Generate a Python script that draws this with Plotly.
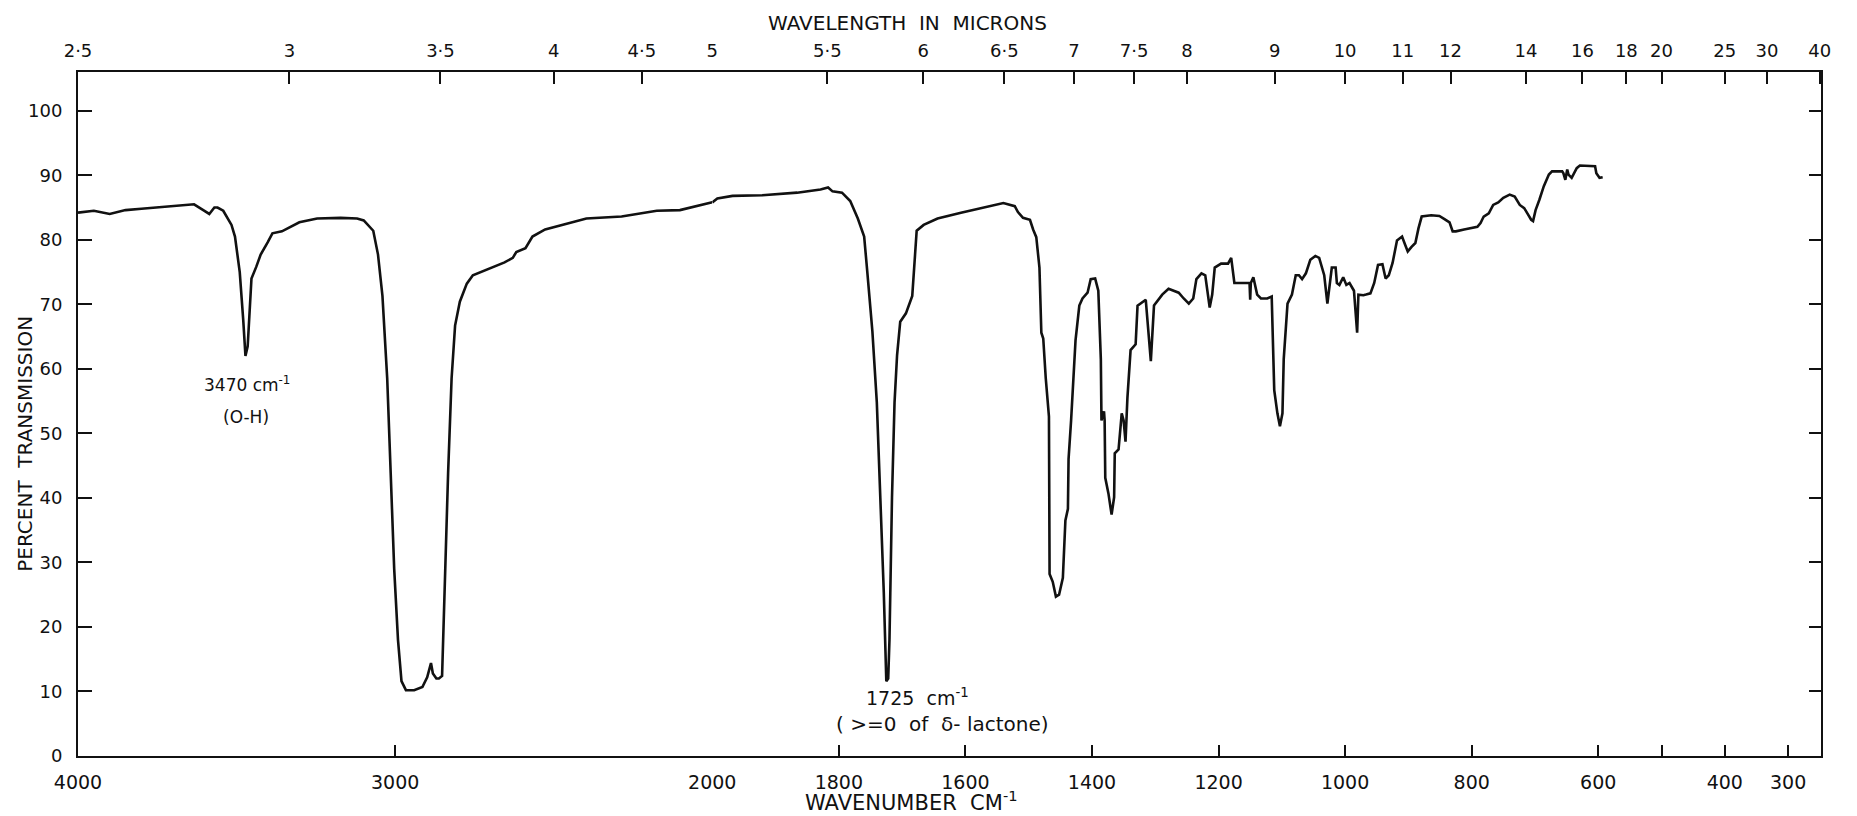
import plotly.graph_objects as go

# ---------------- data ----------------
wavenumber_cm1 = [
    4000, 3950, 3900, 3874, 3850, 3800, 3750, 3700, 3660, 3634, 3605, 3586, 3570, 3560,
    3542, 3516, 3505, 3490, 3479, 3472, 3465, 3460, 3453, 3438, 3424, 3402, 3387, 3357,
    3302, 3246, 3172, 3120, 3099, 3069, 3054, 3040, 3025, 3014, 3003, 2991, 2980, 2966,
    2940, 2914, 2899, 2887, 2881, 2870, 2862, 2852, 2848, 2840, 2833, 2822, 2811, 2796,
    2774, 2755, 2729, 2692, 2655, 2629, 2618, 2589, 2567, 2527, 2471, 2397, 2286, 2175,
    2102, 2028, 2000,
    1992, 1968, 1921, 1866, 1829, 1817, 1810, 1795, 1782, 1770, 1760, 1755, 1747, 1740,
    1734, 1729, 1725, 1722, 1720, 1716, 1712, 1708, 1703, 1694, 1684, 1677, 1666, 1644,
    1607, 1570, 1561, 1540, 1522, 1517, 1509, 1498, 1493, 1488, 1483, 1480, 1477, 1473,
    1468, 1467, 1462, 1457, 1452, 1446, 1442, 1438, 1437, 1433, 1426, 1420, 1415, 1407,
    1402, 1395, 1390, 1386, 1385, 1381, 1380, 1379, 1374, 1369, 1365, 1364, 1358, 1353,
    1350, 1347, 1344, 1339, 1331, 1328, 1315, 1311, 1307, 1302, 1289, 1279, 1263, 1255,
    1247, 1240, 1235, 1227, 1221, 1214, 1210, 1206, 1196, 1185, 1180, 1175, 1164, 1151,
    1150, 1149, 1145, 1139, 1133, 1123, 1116, 1112, 1107, 1103, 1099, 1097, 1091, 1084,
    1078, 1073, 1068, 1062, 1055, 1047, 1041, 1036, 1033, 1028, 1024, 1021, 1015, 1013,
    1009, 1003, 998, 993, 986, 984, 981, 979, 971, 967, 960, 954, 948, 941, 936, 931,
    925, 918, 910, 905, 901, 895, 889, 884, 879, 864, 851, 843, 835, 830, 825, 812, 791,
    786, 781, 773, 766, 758, 750, 740, 732, 724, 717, 712, 706, 703, 699, 693, 686, 678,
    673, 657, 655, 652, 649, 647, 642, 634, 629, 605, 603, 598, 593,
]
transmission_pct = [
    84.2, 84.5, 84.0, 84.3, 84.6, 84.8, 85.0, 85.2, 85.4, 85.5, 84.6, 84.0, 85.0, 85.0,
    84.5, 82.3, 80.5, 75.0, 67.6, 62.0, 63.5, 67.6, 74.0, 75.8, 77.7, 79.6, 81.0, 81.3,
    82.7, 83.3, 83.4, 83.3, 83.0, 81.4, 77.7, 71.3, 58.5, 43.8, 29.0, 18.0, 11.6, 10.2,
    10.2, 10.7, 12.2, 14.4, 12.8, 12.0, 12.0, 12.4, 19.9, 30.9, 43.8, 58.5, 66.7, 70.4,
    73.2, 74.5, 75.0, 75.7, 76.5, 77.2, 78.1, 78.7, 80.5, 81.6, 82.3, 83.3, 83.6, 84.5,
    84.6, 85.5, 85.8,
    86.4, 86.8, 86.9, 87.3, 87.8, 88.1, 87.5, 87.3, 86.0, 83.3, 80.5, 75.0, 65.8, 54.8,
    40.1, 25.4, 11.6, 12.0, 18.0, 40.1, 54.8, 62.1, 67.3, 68.6, 71.3, 81.4, 82.3, 83.3,
    84.2, 85.0, 85.2, 85.7, 85.2, 84.3, 83.4, 83.1, 81.6, 80.4, 75.7, 65.6, 64.7, 58.5,
    52.6, 28.2, 27.0, 24.7, 25.0, 27.6, 36.5, 38.3, 46.0, 52.0, 64.4, 69.8, 70.9, 71.8,
    73.9, 74.0, 72.1, 61.5, 52.0, 53.4, 52.0, 43.1, 40.7, 37.4, 40.1, 46.9, 47.5, 53.1,
    52.0, 48.7, 55.5, 62.9, 63.8, 69.8, 70.7, 66.2, 61.2, 69.8, 71.5, 72.4, 71.8, 70.9,
    70.1, 70.9, 73.9, 74.8, 74.5, 69.5, 71.5, 75.7, 76.3, 76.3, 77.2, 73.3, 73.3, 73.3,
    70.7, 73.3, 74.2, 71.5, 70.9, 70.9, 71.2, 56.7, 53.1, 51.1, 53.1, 61.5, 70.1, 71.5,
    74.5, 74.5, 73.9, 74.8, 76.9, 77.5, 77.2, 75.7, 74.5, 70.1, 73.3, 75.7, 75.7, 73.3,
    73.0, 74.2, 73.0, 73.3, 72.1, 69.2, 65.6, 71.5, 71.4, 71.5, 71.7, 73.3, 76.1, 76.2,
    74.0, 74.5, 76.4, 79.9, 80.5, 79.2, 78.2, 78.9, 79.5, 81.8, 83.6, 83.8, 83.7, 83.2,
    82.7, 81.3, 81.3, 81.6, 82.0, 82.6, 83.6, 84.1, 85.4, 85.8, 86.5, 87.0, 86.7, 85.4,
    84.9, 84.1, 83.1, 82.9, 84.6, 86.2, 88.3, 90.1, 90.6, 90.6, 90.3, 89.3, 90.9, 90.1,
    89.6, 91.1, 91.5, 91.4, 90.3, 89.6, 89.7,
]

wavenumber_ticks_high = [4000, 3000, 2000]
wavenumber_ticks_low = [1800, 1600, 1400, 1200, 1000, 800, 600, 400, 300]
wavenumber_unlabelled_ticks = [500]
micron_ticks_high = [2.5, 3, 3.5, 4, 4.5, 5]
micron_labels_high = ["2·5", "3", "3·5", "4", "4·5", "5"]
micron_ticks_low = [5.5, 6, 6.5, 7, 7.5, 8, 9, 10, 11, 12, 14, 16, 18, 20, 25, 30, 40]
micron_labels_low = ["5·5", "6", "6·5", "7", "7·5", "8", "9", "10", "11", "12",
                     "14", "16", "18", "20", "25", "30", "40"]
percent_ticks = [0, 10, 20, 30, 40, 50, 60, 70, 80, 90, 100]

# ---------------- figure ----------------
FONT = "DejaVu Sans"
INK = "#111111"
split = 0.3639

hi = [(w, t) for w, t in zip(wavenumber_cm1, transmission_pct) if w >= 2000]
lo = [(w, t) for w, t in zip(wavenumber_cm1, transmission_pct) if w <= 2000]
hi_x, hi_y = [p[0] for p in hi], [p[1] for p in hi]
lo_x, lo_y = [p[0] for p in lo], [p[1] for p in lo]

fig = go.Figure()
line_style = dict(color=INK, width=2.6)
fig.add_trace(go.Scatter(x=hi_x, y=hi_y, mode="lines", line=line_style,
                         xaxis="x", yaxis="y", showlegend=False, hoverinfo="x+y"))
fig.add_trace(go.Scatter(x=lo_x, y=lo_y, mode="lines", line=line_style,
                         xaxis="x2", yaxis="y", showlegend=False, hoverinfo="x+y"))
# transparent copies so that the top (micron) axes and the right frame axis are drawn
fig.add_trace(go.Scatter(x=hi_x, y=hi_y, mode="lines", line=line_style, opacity=0,
                         xaxis="x3", yaxis="y", showlegend=False, hoverinfo="skip"))
fig.add_trace(go.Scatter(x=lo_x, y=lo_y, mode="lines", line=line_style, opacity=0,
                         xaxis="x4", yaxis="y2", showlegend=False, hoverinfo="skip"))

axis_common = dict(showline=True, linecolor=INK, linewidth=2, showgrid=False,
                   zeroline=False, ticks="inside", tickcolor=INK, tickwidth=2,
                   mirror=False)

fig.update_layout(
    width=1857, height=816,
    margin=dict(l=78, r=15, t=72, b=60, pad=0),
    paper_bgcolor="white", plot_bgcolor="white",
    font=dict(family=FONT, color=INK, size=18),
    xaxis=dict(domain=[0, split], range=[4000, 2000], anchor="y",
               tickmode="array", tickvals=wavenumber_ticks_high,
               ticktext=[str(v) for v in wavenumber_ticks_high],
               ticklen=11, tickfont=dict(size=19), ticklabelstandoff=8,
               **axis_common),
    xaxis2=dict(domain=[split, 1], range=[2000, 248], anchor="y",
                tickmode="array", tickvals=wavenumber_ticks_low,
                ticktext=[str(v) for v in wavenumber_ticks_low],
                ticklen=11, tickfont=dict(size=19), ticklabelstandoff=8,
                minor=dict(tickmode="array", tickvals=wavenumber_unlabelled_ticks,
                           ticks="inside", ticklen=11, tickwidth=2, tickcolor=INK,
                           showgrid=False),
                **axis_common),
    xaxis3=dict(domain=[0, split], range=[4000, 2000], anchor="y", overlaying="x",
                side="top", tickmode="array",
                tickvals=[1e4 / m for m in micron_ticks_high], ticktext=micron_labels_high,
                ticklen=12, tickfont=dict(size=18), ticklabelstandoff=6,
                **axis_common),
    xaxis4=dict(domain=[split, 1], range=[2000, 248], anchor="y", overlaying="x2",
                side="top", tickmode="array",
                tickvals=[1e4 / m for m in micron_ticks_low], ticktext=micron_labels_low,
                ticklen=12, tickfont=dict(size=18), ticklabelstandoff=6,
                **axis_common),
    yaxis=dict(range=[0, 106], anchor="x", side="left", tickmode="array",
               tickvals=percent_ticks, ticktext=[str(v) for v in percent_ticks],
               ticklen=14, tickfont=dict(size=18), ticklabelstandoff=10,
               **axis_common),
    yaxis2=dict(range=[0, 106], anchor="x2", side="right", overlaying="y",
                tickmode="array", tickvals=percent_ticks, showticklabels=False,
                ticklen=12, **axis_common),
)

annotations = [
    dict(text="WAVELENGTH  IN  MICRONS", xref="paper", yref="paper", x=0.476, y=1.0716,
         showarrow=False, font=dict(size=20), xanchor="center", yanchor="middle"),
    dict(text="WAVENUMBER  CM<sup>-1</sup>", xref="paper", yref="paper", x=0.478, y=-0.066,
         showarrow=False, font=dict(size=21), xanchor="center", yanchor="middle"),
    dict(text="PERCENT  TRANSMISSION", xref="paper", yref="paper", x=-0.0306, y=0.456,
         textangle=-90, showarrow=False, font=dict(size=20), xanchor="center",
         yanchor="middle"),
    dict(text="3470 cm<sup>-1</sup>", xref="x", yref="y", x=3467, y=57.6,
         showarrow=False, font=dict(size=17), xanchor="center", yanchor="middle"),
    dict(text="(O-H)", xref="x", yref="y", x=3470, y=52.6,
         showarrow=False, font=dict(size=17), xanchor="center", yanchor="middle"),
    dict(text="1725  cm<sup>-1</sup>", xref="x2", yref="y", x=1676, y=9.2,
         showarrow=False, font=dict(size=19), xanchor="center", yanchor="middle"),
    dict(text="( >=0  of  δ- lactone)", xref="x2", yref="y", x=1636, y=5.0,
         showarrow=False, font=dict(size=20), xanchor="center", yanchor="middle"),
]
fig.update_layout(annotations=annotations)

fig.write_html("out.html")
